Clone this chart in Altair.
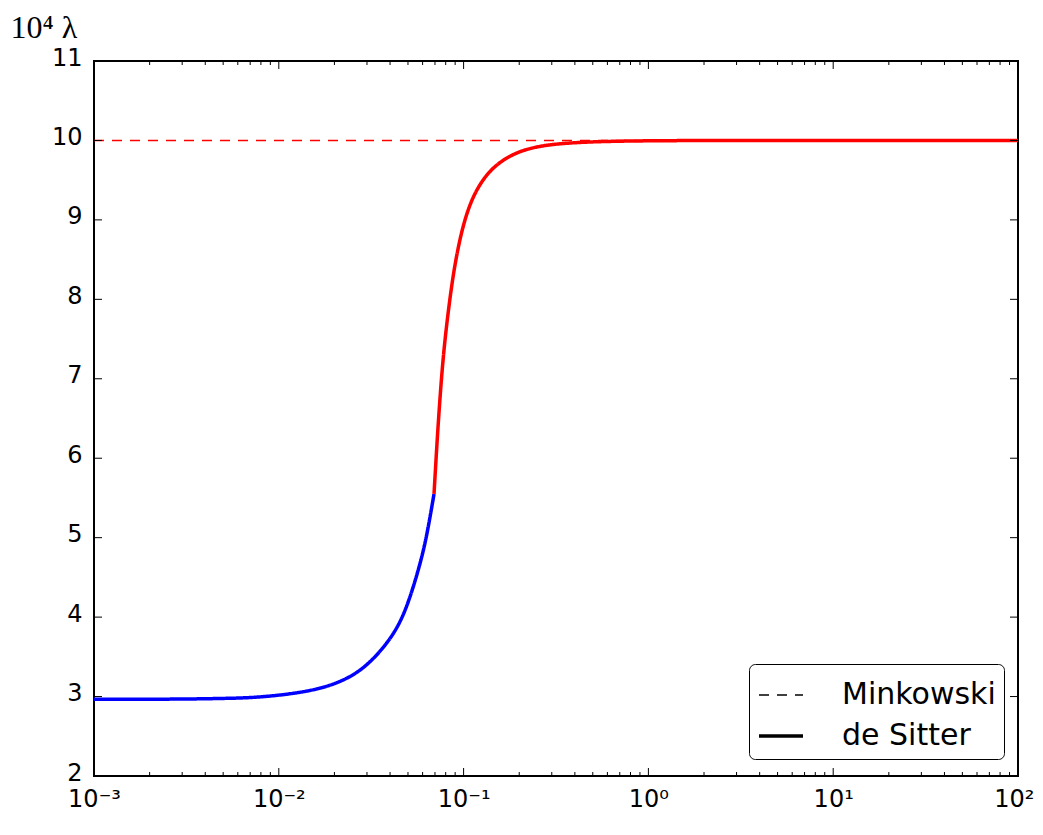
import altair as alt
import pandas as pd

# ---- data ----
low_k = [0.001, 0.00178, 0.00316, 0.00562, 0.007913, 0.014752, 0.022339, 0.029898,
         0.038365, 0.045274, 0.051282, 0.058071, 0.063119, 0.06917]
low_lam = [2.966, 2.966, 2.968, 2.978, 2.99, 3.06, 3.19, 3.38,
           3.66, 3.92, 4.24, 4.66, 5.01, 5.55]

high_k = [0.06917, 0.07098, 0.07305, 0.07755, 0.0844, 0.08981, 0.09766, 0.10828,
          0.12269, 0.14475, 0.18578, 0.25906, 0.42645, 0.7951, 2.0, 10.0, 100.0]
high_lam = [5.55, 6.0, 6.48, 7.32, 8.03, 8.45, 8.87, 9.21,
            9.46, 9.67, 9.84, 9.94, 9.98, 9.995, 10.0, 10.0, 10.0]

mink_k = [0.001, 100.0]
mink_lam = [10.0, 10.0]

series_names = ["Minkowski", "de Sitter"]
x_major = [0.001, 0.01, 0.1, 1.0, 10.0, 100.0]
x_labels = ["10⁻³", "10⁻²", "10⁻¹", "10⁰", "10¹", "10²"]
x_minor = [m * 10.0 ** e for e in range(-3, 2) for m in range(2, 10)]
y_major = [2, 3, 4, 5, 6, 7, 8, 9, 10, 11]

W, H = 924, 715

desitter = pd.DataFrame({
    "k": low_k + high_k,
    "lam": low_lam + high_lam,
    "phase": ["low"] * len(low_k) + ["high"] * len(high_k),
    "series": ["de Sitter"] * (len(low_k) + len(high_k)),
})
mink = pd.DataFrame({"k": mink_k, "lam": mink_lam, "series": ["Minkowski"] * 2})

xscale = alt.Scale(type="log", domain=[0.001, 100], nice=False)
yscale = alt.Scale(domain=[2, 11], nice=False, zero=False)

label_map = "{" + ",".join(f"'{i}':'{l}'" for i, l in enumerate(x_labels)) + "}"

xaxis = alt.Axis(values=x_major, ticks=False, domain=False, grid=False,
                 labelExpr=f"{label_map}[''+(round(log(datum.value)/LN10)+3)]",
                 labelFontSize=24, labelFont="DejaVu Sans", labelColor="black",
                 labelPadding=11, labelFlush=False,
                 labelAlign={"condition": {"test": "datum.value >= 100", "value": "right"},
                             "value": "center"},
                 labelOffset={"condition": {"test": "datum.value >= 100", "value": 16},
                              "value": 0},
                 title="k", titleFont="Liberation Serif", titleFontStyle="italic",
                 titleFontWeight="normal", titleFontSize=32, titlePadding=10,
                 titleColor="black")
yaxis = alt.Axis(values=y_major, ticks=False, domain=False, grid=False,
                 labelFontSize=24, labelFont="DejaVu Sans", labelColor="black",
                 labelPadding=12, labelOffset=-3,
                 title="10⁴ λ", titleAngle=0, titleAlign="left",
                 titleBaseline="alphabetic", titleX=-84, titleY=-24,
                 titleFont="Liberation Serif", titleFontSize=32,
                 titleFontWeight="normal", titleColor="black")

legend = alt.Legend(title=None, orient="none", legendX=655, legendY=603,
                    symbolType="stroke", symbolSize=1936,
                    symbolStrokeColor="black", labelFontSize=30,
                    labelFont="DejaVu Sans", labelColor="black",
                    labelOffset=37, rowPadding=2, padding=8,
                    fillColor="white", strokeColor="black",
                    cornerRadius=6)

dash_scale = alt.Scale(domain=series_names, range=[[10, 8], [1, 0]])
width_scale = alt.Scale(domain=series_names, range=[1.5, 3.5])

X = alt.X("k:Q", scale=xscale, axis=xaxis)
Y = alt.Y("lam:Q", scale=yscale, axis=yaxis)

mink_layer = alt.Chart(mink).mark_line(color="red").encode(
    x=X, y=Y,
    strokeDash=alt.StrokeDash("series:N", scale=dash_scale, legend=legend),
    strokeWidth=alt.StrokeWidth("series:N", scale=width_scale, legend=legend),
)

ds_layer = alt.Chart(desitter).mark_line(interpolate="basis").encode(
    x=X, y=Y,
    color=alt.Color("phase:N", scale=alt.Scale(domain=["low", "high"], range=["blue", "red"]),
                    legend=None),
    strokeDash=alt.StrokeDash("series:N", scale=dash_scale, legend=legend),
    strokeWidth=alt.StrokeWidth("series:N", scale=width_scale, legend=legend),
)

xmaj = pd.DataFrame({"k": x_major})
xmin = pd.DataFrame({"k": x_minor})
ymaj = pd.DataFrame({"lam": y_major})

def xticks(df, length):
    base = alt.Chart(df).mark_rule(color="black", strokeWidth=1)
    bottom = base.encode(x=X, y=alt.value(H), y2=alt.value(H - length))
    top = base.encode(x=X, y=alt.value(0), y2=alt.value(length))
    return bottom + top

def yticks(df, length):
    base = alt.Chart(df).mark_rule(color="black", strokeWidth=1)
    left = base.encode(y=Y, x=alt.value(0), x2=alt.value(length))
    right = base.encode(y=Y, x=alt.value(W), x2=alt.value(W - length))
    return left + right

chart = alt.layer(
    mink_layer, ds_layer,
    xticks(xmaj, 8), xticks(xmin, 4), yticks(ymaj, 8),
).properties(
    width=W, height=H,
    background="white",
    autosize=alt.AutoSizeParams(type="none"),
    padding={"left": 86, "top": 53, "right": 17, "bottom": 45},
).configure_view(
    stroke="black", strokeWidth=2
)

chart.save("out.html", embed_options={"renderer": "svg", "actions": False})
